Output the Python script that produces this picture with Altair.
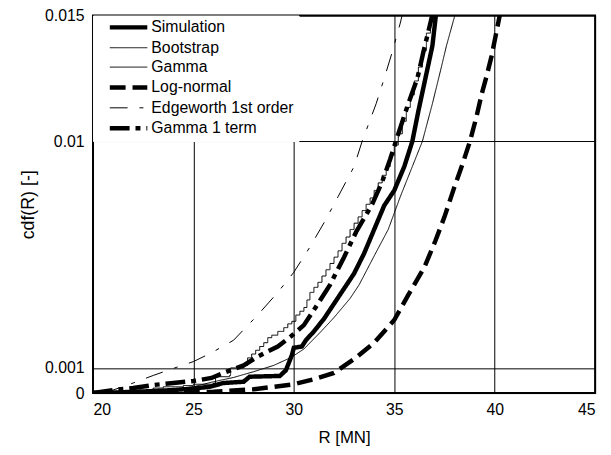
import altair as alt
import pandas as pd

series_names = ["Simulation", "Bootstrap", "Gamma", "Log-normal",
                "Edgeworth 1st order", "Gamma 1 term"]

# cdf values below are in units of 1e-3
sim_R = [20, 21, 22, 23, 24, 25, 25.8, 26.5, 27.5, 27.8, 29.3, 29.6, 29.9, 30.0,
         30.4, 30.6, 31.0, 31.5, 32.0, 32.5, 33.0, 33.5, 34.0, 34.5, 35.0, 35.5,
         35.9, 36.2, 36.55, 36.9, 37.1]
sim_c = [0, 0.02, 0.05, 0.08, 0.12, 0.18, 0.25, 0.4, 0.45, 0.65, 0.68, 0.9, 1.5, 1.8,
         1.85, 2.1, 2.45, 2.95, 3.55, 4.15, 4.75, 5.55, 6.5, 7.45, 8.05, 9.0,
         10.0, 11.2, 12.5, 13.8, 15.2]

boot_R = [20, 21, 22, 23, 23.5, 24.5, 25, 26.0, 26.1, 26.8, 26.85, 27.5, 27.7, 27.9,
          28.1, 28.3, 28.5, 28.7, 28.9, 29.2, 29.5, 29.7, 29.9, 30.1, 30.3, 30.5,
          30.65, 30.8, 31.0, 31.2, 31.4, 31.6, 31.8, 32.0, 32.2, 32.4, 32.6, 32.8,
          33.0, 33.2, 33.4, 33.6, 33.8, 34.0, 34.2, 34.4, 34.6, 34.8, 35.0, 35.2,
          35.4, 35.6, 35.8, 36.0, 36.2, 36.4, 36.6, 36.8]
boot_c = [0, 0.05, 0.1, 0.2, 0.25, 0.3, 0.35, 0.4, 0.65, 0.7, 1.0, 1.1, 1.4, 1.55,
          1.7, 1.85, 2.0, 2.2, 2.3, 2.45, 2.6, 2.75, 2.85, 3.1, 3.25, 3.4,
          3.7, 4.0, 4.2, 4.4, 4.65, 4.9, 5.15, 5.4, 5.65, 5.95, 6.2, 6.5,
          6.75, 7.0, 7.25, 7.5, 7.75, 8.05, 8.35, 8.65, 9.0, 9.45, 9.85, 10.3,
          10.8, 11.35, 11.85, 12.4, 12.95, 13.6, 14.3, 15.2]

gam_R = [20, 22, 24, 25, 26, 27, 28, 29, 29.85, 30.5, 31.3, 32, 32.8, 33.25, 34.1,
         34.7, 35.3, 35.9, 36.4, 36.9, 37.3, 37.6, 38.05]
gam_c = [0, 0.05, 0.15, 0.25, 0.45, 0.62, 0.85, 1.1, 1.41, 1.75, 2.4, 3.0, 3.76, 4.3,
         5.6, 6.5, 7.8, 9.0, 10.0, 11.5, 12.8, 13.8, 15.1]

logn_R = [20, 24, 26, 27, 28, 29, 30, 31, 32, 33, 34, 35, 35.7, 36.5, 37.05, 37.5,
          38, 38.4, 38.77, 39.1, 39.36, 39.6, 39.85, 40.05, 40.3]
logn_c = [0, 0.01, 0.05, 0.1, 0.15, 0.25, 0.35, 0.55, 0.8, 1.35, 2.0, 2.9, 3.9, 5.0,
          6.05, 7.0, 8.2, 9.1, 10.0, 11.0, 11.9, 12.6, 13.4, 14.2, 15.2]

edge_R = [20.5, 21, 22, 23, 24, 25, 25.9, 27, 28.2, 29.2, 30, 30.8, 31.6, 32.2, 33,
          33.4, 34.1, 34.5, 34.9, 35.3, 35.45]
edge_c = [0, 0.12, 0.4, 0.7, 0.98, 1.25, 1.6, 2.1, 3.1, 4.0, 4.8, 5.8, 6.9, 7.8, 9.0,
          10.0, 11.5, 12.5, 13.55, 14.7, 15.2]

g1_R = [20, 21, 22, 23, 24, 25, 25.9, 26.5, 27, 27.5, 28.2, 29.2, 29.85, 30.5, 31,
        31.8, 32.5, 33.1, 33.9, 34.4, 34.8, 35.2, 35.7, 36.15, 36.45, 36.8, 36.95]
g1_c = [0, 0.12, 0.2, 0.32, 0.4, 0.48, 0.6, 0.8, 0.95, 1.1, 1.45, 1.85, 2.25, 2.7, 3.3,
        4.3, 5.4, 6.4, 7.5, 8.4, 9.3, 10.3, 11.5, 12.5, 13.55, 14.7, 15.2]

x_ticks = [20, 25, 30, 35, 40, 45]
y_ticks = [0, 0.001, 0.01, 0.015]

dash_range = [[1, 0], [1, 0], [1, 0], [16, 7], [18, 12, 4, 12], [20, 6, 5, 6]]
width_range = [4.5, 1, 1, 4.5, 1, 4.5]

rows = []
for name, Rs, cs in [("Simulation", sim_R, sim_c), ("Bootstrap", boot_R, boot_c),
                     ("Gamma", gam_R, gam_c), ("Log-normal", logn_R, logn_c),
                     ("Edgeworth 1st order", edge_R, edge_c),
                     ("Gamma 1 term", g1_R, g1_c)]:
    for r, c in zip(Rs, cs):
        rows.append({"series": name, "R": r, "cdf": c / 1000.0})
df = pd.DataFrame(rows)

FONT = "Liberation Sans"

leg = alt.Legend(
    orient="top-left", title=None, offset=0, padding=4,
    symbolType="M0,0H8", symbolSize=90, symbolStrokeColor="black", symbolOffset=5,
    labelFont=FONT, labelFontSize=16, labelColor="black", labelOffset=34,
    rowPadding=3.6, fillColor="white", strokeColor="white",
)

enc = dict(
    x=alt.X("R:Q", scale=alt.Scale(domain=[20, 45], nice=False, zero=False),
            axis=alt.Axis(values=x_ticks, title="R [MN]", titleFontSize=17)),
    y=alt.Y("cdf:Q", scale=alt.Scale(domain=[0, 0.015], nice=False),
            axis=alt.Axis(values=y_ticks, format=".3~f", title="cdf(R) [-]",
                          titleFontSize=18, titlePadding=7)),
    strokeDash=alt.StrokeDash("series:N",
                              scale=alt.Scale(domain=series_names, range=dash_range),
                              legend=leg),
    strokeWidth=alt.StrokeWidth("series:N",
                                scale=alt.Scale(domain=series_names, range=width_range,
                                                type="ordinal"),
                                legend=leg),
)

base = alt.Chart(df)
lines = base.transform_filter(alt.datum.series != "Bootstrap").mark_line(
    clip=True, color="black").encode(**enc)
boot = base.transform_filter(alt.datum.series == "Bootstrap").mark_line(
    clip=True, color="black", interpolate="step-after").encode(**enc)

chart = alt.layer(boot, lines).properties(
    width=508, height=382,
    autosize=alt.AutoSizeParams(type="none"),
    padding={"left": 86, "top": 5, "right": 8, "bottom": 55},
).configure_view(
    stroke="black", strokeWidth=2
).configure_axis(
    grid=True, gridColor="black", gridOpacity=1, gridWidth=1,
    domain=False, ticks=False,
    labelFont=FONT, labelFontSize=16, labelColor="black", labelPadding=9,
    titleFont=FONT, titleFontWeight="normal", titleColor="black",
).configure_axisX(
    titlePadding=12
)

chart.save("out.html", embed_options={"renderer": "svg", "actions": False})
